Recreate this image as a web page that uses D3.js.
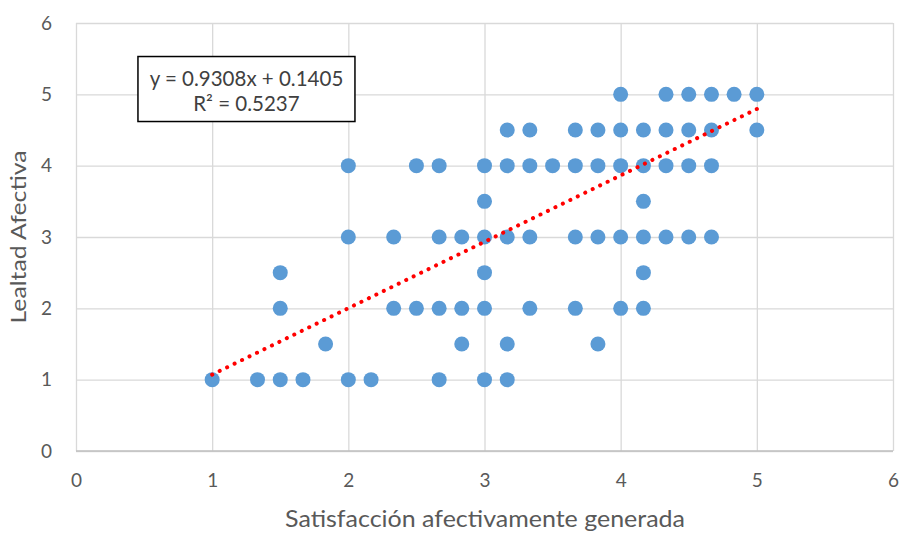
<!DOCTYPE html>
<html>
<head>
<meta charset="utf-8">
<script src="https://cdn.jsdelivr.net/npm/d3@7"></script>
<style>
  body { margin: 0; background: #fff; }
  svg { font-family: Lato, "Open Sans", sans-serif; }
</style>
</head>
<body>
<svg id="chart"></svg>
<script>
// puntos: satisfaccion (x) y lealtad (y), leidos fila por fila
var satisfaccion = [
    4, 4.333, 4.5, 4.667, 4.833, 5,
    3.167, 3.333, 3.667, 3.833, 4, 4.167, 4.333, 4.5, 4.667, 5,
    2, 2.5, 2.667, 3, 3.167, 3.333, 3.5, 3.667, 3.833, 4, 4.167, 4.333, 4.5, 4.667,
    3, 4.167,
    2, 2.333, 2.667, 2.833, 3, 3.167, 3.333, 3.667, 3.833, 4, 4.167, 4.333, 4.5, 4.667,
    1.5, 3, 4.167,
    1.5, 2.333, 2.5, 2.667, 2.833, 3, 3.333, 3.667, 4, 4.167,
    1.833, 2.833, 3.167, 3.833,
    1, 1.333, 1.5, 1.667, 2, 2.167, 2.667, 3, 3.167
];
var lealtad = [
    5, 5, 5, 5, 5, 5,
    4.5, 4.5, 4.5, 4.5, 4.5, 4.5, 4.5, 4.5, 4.5, 4.5,
    4, 4, 4, 4, 4, 4, 4, 4, 4, 4, 4, 4, 4, 4,
    3.5, 3.5,
    3, 3, 3, 3, 3, 3, 3, 3, 3, 3, 3, 3, 3, 3,
    2.5, 2.5, 2.5,
    2, 2, 2, 2, 2, 2, 2, 2, 2, 2,
    1.5, 1.5, 1.5, 1.5,
    1, 1, 1, 1, 1, 1, 1, 1, 1
];
var xTicks = [0, 1, 2, 3, 4, 5, 6];
var yTicks = [0, 1, 2, 3, 4, 5, 6];
var slope = 0.9308;
var intercept = 0.1405;
var equationLines = ["y = 0.9308x + 0.1405", "R² = 0.5237"];

var width = 902, height = 533;
var margin = {top: 23, right: 9, bottom: 82, left: 76};
var innerW = width - margin.left - margin.right;
var innerH = height - margin.top - margin.bottom;

var svg = d3.select('#chart').attr('width', width).attr('height', height);
var g = svg.append('g').attr('transform', `translate(${margin.left}, ${margin.top})`);

var x = d3.scaleLinear().domain([0, 6]).range([0, innerW]);
var y = d3.scaleLinear().domain([0, 6]).range([innerH, 0]);

// rejilla
g.append('g')
    .call(d3.axisBottom(x).tickValues(xTicks).tickSize(innerH).tickFormat(''))
    .call(s => s.select('.domain').remove())
    .selectAll('line').attr('stroke', '#d9d9d9').attr('stroke-width', 1.3);
g.append('g')
    .call(d3.axisLeft(y).tickValues(yTicks).tickSize(-innerW).tickFormat(''))
    .call(s => s.select('.domain').remove())
    .selectAll('line').attr('stroke', '#d9d9d9').attr('stroke-width', 1.3);

// eje x base
g.append('line')
    .attr('x1', 0).attr('x2', innerW)
    .attr('y1', y(0)).attr('y2', y(0))
    .attr('stroke', '#bfbfbf').attr('stroke-width', 1.3);

// etiquetas
var xAxis = g.append('g')
    .attr('transform', `translate(0, ${innerH})`)
    .call(d3.axisBottom(x).tickValues(xTicks).tickSize(0).tickPadding(23).tickFormat(d3.format('d')));
xAxis.select('.domain').remove();
xAxis.selectAll('text').attr('font-size', 19).attr('fill', '#595959')
    .attr('font-family', 'Lato, sans-serif');

var yAxis = g.append('g')
    .call(d3.axisLeft(y).tickValues(yTicks).tickSize(0).tickPadding(24).tickFormat(d3.format('d')));
yAxis.select('.domain').remove();
yAxis.selectAll('text').attr('font-size', 19).attr('fill', '#595959')
    .attr('font-family', 'Lato, sans-serif');

// puntos
var data = satisfaccion.map((v, i) => ({x: v, y: lealtad[i]}));
g.selectAll('circle.pt').data(data).enter()
    .append('circle')
    .attr('class', 'pt')
    .attr('cx', d => x(d.x))
    .attr('cy', d => y(d.y))
    .attr('r', 7.5)
    .attr('fill', '#5b9bd5');

// linea de tendencia
var xMin = d3.min(satisfaccion), xMax = d3.max(satisfaccion);
g.append('line')
    .attr('x1', x(xMin)).attr('y1', y(slope * xMin + intercept))
    .attr('x2', x(xMax)).attr('y2', y(slope * xMax + intercept))
    .attr('stroke', '#ff0000')
    .attr('stroke-width', 4)
    .attr('stroke-linecap', 'round')
    .attr('stroke-dasharray', '0.1 8.2');

// caja de ecuacion
var box = g.append('g').attr('transform', `translate(${x(0.455)}, ${y(5.53)})`);
box.append('rect')
    .attr('width', 217).attr('height', 65)
    .attr('fill', '#fff').attr('stroke', '#000').attr('stroke-width', 1.5);
box.selectAll('text').data(equationLines).enter()
    .append('text')
    .attr('x', 108.5)
    .attr('y', (d, i) => 29 + i * 25)
    .attr('text-anchor', 'middle')
    .attr('font-size', 20.5)
    .attr('fill', '#404040')
    .text(d => d);

// titulos de ejes
svg.append('text')
    .attr('x', 485)
    .attr('y', 527)
    .attr('text-anchor', 'middle')
    .attr('font-size', 23)
    .attr('textLength', 400)
    .attr('lengthAdjust', 'spacingAndGlyphs')
    .attr('fill', '#595959')
    .text('Satisfacción afectivamente generada');

svg.append('text')
    .attr('transform', `translate(26, ${y(3) + margin.top}) rotate(-90)`)
    .attr('text-anchor', 'middle')
    .attr('font-size', 22)
    .attr('textLength', 173)
    .attr('lengthAdjust', 'spacingAndGlyphs')
    .attr('fill', '#595959')
    .text('Lealtad Afectiva');
</script>
</body>
</html>
